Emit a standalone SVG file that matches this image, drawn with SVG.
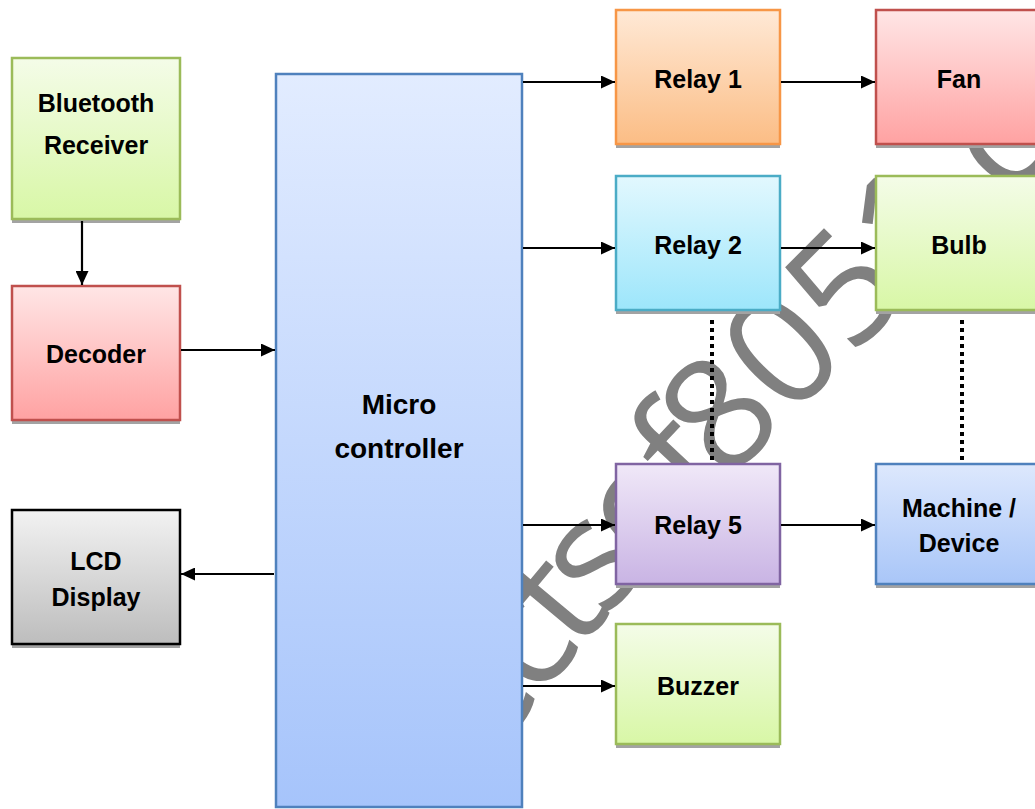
<svg xmlns="http://www.w3.org/2000/svg" xmlns:xlink="http://www.w3.org/1999/xlink" width="1035" height="809" viewBox="0 0 1035 809">
  <defs>
    <linearGradient id="gGreen" x1="0" y1="0" x2="0" y2="1"><stop offset="0" stop-color="#f4fce8"/><stop offset="1" stop-color="#d8f7a6"/></linearGradient>
    <linearGradient id="gRed" x1="0" y1="0" x2="0" y2="1"><stop offset="0" stop-color="#ffe6e6"/><stop offset="1" stop-color="#ffa2a2"/></linearGradient>
    <linearGradient id="gGray" x1="0" y1="0" x2="0" y2="1"><stop offset="0" stop-color="#f2f2f2"/><stop offset="1" stop-color="#bdbdbd"/></linearGradient>
    <linearGradient id="gBlue" x1="0" y1="0" x2="0" y2="1"><stop offset="0" stop-color="#e2ecff"/><stop offset="1" stop-color="#a6c4fb"/></linearGradient>
    <linearGradient id="gBlue2" x1="0" y1="0" x2="0" y2="1"><stop offset="0" stop-color="#dde8fd"/><stop offset="1" stop-color="#a9c6f8"/></linearGradient>
    <linearGradient id="gOrange" x1="0" y1="0" x2="0" y2="1"><stop offset="0" stop-color="#ffe9d6"/><stop offset="1" stop-color="#fbbd85"/></linearGradient>
    <linearGradient id="gCyan" x1="0" y1="0" x2="0" y2="1"><stop offset="0" stop-color="#e2f8fe"/><stop offset="1" stop-color="#9de6fb"/></linearGradient>
    <linearGradient id="gPurple" x1="0" y1="0" x2="0" y2="1"><stop offset="0" stop-color="#f0e8f8"/><stop offset="1" stop-color="#c9b4e4"/></linearGradient>
    <marker id="arrow" viewBox="0 0 14 13" refX="14" refY="6.5" markerWidth="14" markerHeight="13" markerUnits="userSpaceOnUse" orient="auto">
      <path d="M0,0 L14,6.5 L0,13 Z" fill="#000"/>
    </marker>
    <!-- baseline curve for the background lettering -->
    <path id="wmPath" d="M260,1090 L440,830 Q600,610 775,434 T1093,116"/>
    <!-- lettering stays above the bottom edge of the controller block -->
    <clipPath id="wmClip"><rect x="0" y="0" width="1035" height="805"/></clipPath>
  </defs>
  <style>
    .shadow { fill: #a3a3a3; }
    .box { stroke-width: 2.5; }
    .label { font-family: "Liberation Sans", Arial, sans-serif; font-weight: bold; font-size: 25px; fill: #000; text-anchor: middle; }
    .big { font-size: 28px; }
    .conn { stroke: #000; stroke-width: 2.2; fill: none; }
    .dots { stroke: #000; stroke-width: 4; stroke-dasharray: 4 4; fill: none; }
    .wm { font-family: "Open Sans", "Liberation Sans", sans-serif; font-size: 155px; fill: #808080; }
  </style>
  <rect width="1035" height="809" fill="#fff"/>

  <!-- background lettering, behind everything -->
  <text class="wm" clip-path="url(#wmClip)"><textPath xlink:href="#wmPath" startOffset="160"><tspan letter-spacing="-12">projectsof</tspan>8051.com</textPath></text>

  <g id="bluetooth">
    <rect class="shadow" x="12" y="62" width="168" height="161"/>
    <rect class="box" x="12" y="58" width="168" height="161" fill="url(#gGreen)" stroke="#9bbb59"/>
    <text class="label" x="96" y="112">Bluetooth</text>
    <text class="label" x="96" y="154">Receiver</text>
  </g>
  <g id="decoder">
    <rect class="shadow" x="12" y="290" width="168" height="134"/>
    <rect class="box" x="12" y="286" width="168" height="134" fill="url(#gRed)" stroke="#c0504d"/>
    <text class="label" x="96" y="363">Decoder</text>
  </g>
  <g id="lcd">
    <rect class="shadow" x="12" y="514" width="168" height="134"/>
    <rect class="box" x="12" y="510" width="168" height="134" fill="url(#gGray)" stroke="#000"/>
    <text class="label" x="96" y="570">LCD</text>
    <text class="label" x="96" y="606">Display</text>
  </g>
  <g id="micro">
    <rect class="box" x="276" y="74" width="246" height="733" fill="url(#gBlue)" stroke="#4f81bd"/>
    <text class="label big" x="399" y="414">Micro</text>
    <text class="label big" x="399" y="458">controller</text>
  </g>
  <g id="relay1">
    <rect class="shadow" x="616" y="14" width="164" height="134"/>
    <rect class="box" x="616" y="10" width="164" height="134" fill="url(#gOrange)" stroke="#f79646"/>
    <text class="label" x="698" y="88">Relay 1</text>
  </g>
  <g id="fan">
    <rect class="shadow" x="876" y="14" width="166" height="134"/>
    <rect class="box" x="876" y="10" width="166" height="134" fill="url(#gRed)" stroke="#c0504d"/>
    <text class="label" x="959" y="88">Fan</text>
  </g>
  <g id="relay2">
    <rect class="shadow" x="616" y="180" width="164" height="134"/>
    <rect class="box" x="616" y="176" width="164" height="134" fill="url(#gCyan)" stroke="#4bacc6"/>
    <text class="label" x="698" y="254">Relay 2</text>
  </g>
  <g id="bulb">
    <rect class="shadow" x="876" y="180" width="166" height="134"/>
    <rect class="box" x="876" y="176" width="166" height="134" fill="url(#gGreen)" stroke="#9bbb59"/>
    <text class="label" x="959" y="254">Bulb</text>
  </g>
  <g id="relay5">
    <rect class="shadow" x="616" y="468" width="164" height="120"/>
    <rect class="box" x="616" y="464" width="164" height="120" fill="url(#gPurple)" stroke="#8064a2"/>
    <text class="label" x="698" y="534">Relay 5</text>
  </g>
  <g id="machine">
    <rect class="shadow" x="876" y="468" width="166" height="120"/>
    <rect class="box" x="876" y="464" width="166" height="120" fill="url(#gBlue2)" stroke="#4f81bd"/>
    <text class="label" x="959" y="517">Machine /</text>
    <text class="label" x="959" y="552">Device</text>
  </g>
  <g id="buzzer">
    <rect class="shadow" x="616" y="628" width="164" height="120"/>
    <rect class="box" x="616" y="624" width="164" height="120" fill="url(#gGreen)" stroke="#9bbb59"/>
    <text class="label" x="698" y="695">Buzzer</text>
  </g>

  <g id="connectors">
    <line class="conn" x1="82" y1="221" x2="82" y2="285" marker-end="url(#arrow)"/>
    <line class="conn" x1="181" y1="350" x2="275" y2="350" marker-end="url(#arrow)"/>
    <line class="conn" x1="274" y1="574" x2="181" y2="574" marker-end="url(#arrow)"/>
    <line class="conn" x1="523" y1="82" x2="615" y2="82" marker-end="url(#arrow)"/>
    <line class="conn" x1="781" y1="82" x2="875" y2="82" marker-end="url(#arrow)"/>
    <line class="conn" x1="523" y1="248" x2="615" y2="248" marker-end="url(#arrow)"/>
    <line class="conn" x1="781" y1="248" x2="875" y2="248" marker-end="url(#arrow)"/>
    <line class="conn" x1="523" y1="525" x2="615" y2="525" marker-end="url(#arrow)"/>
    <line class="conn" x1="781" y1="525" x2="875" y2="525" marker-end="url(#arrow)"/>
    <line class="conn" x1="523" y1="686" x2="615" y2="686" marker-end="url(#arrow)"/>
    <line class="dots" x1="712" y1="320" x2="712" y2="463"/>
    <line class="dots" x1="962" y1="320" x2="962" y2="463"/>
  </g>
</svg>
